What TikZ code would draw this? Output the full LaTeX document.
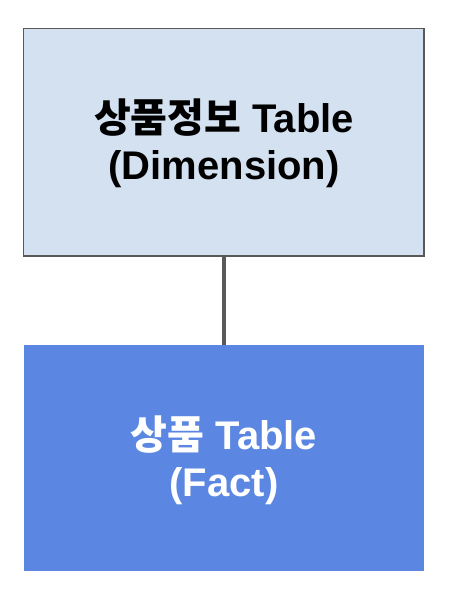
\documentclass[tikz,border=0pt]{standalone}
\usepackage{fontspec}
\setmainfont{Liberation Sans}
\newfontfamily\kr{Noto Sans CJK KR}
\definecolor{topfill}{HTML}{D4E1F1}
\definecolor{botfill}{HTML}{5B87E2}
\definecolor{edgegray}{HTML}{595959}
\begin{document}
\begin{tikzpicture}[x=1pt,y=-1pt,
  boxtext/.style={font=\fontsize{40}{47}\selectfont\bfseries, align=center, inner sep=0pt},
  dimbox/.style={draw=edgegray, line width=1.5pt, fill=topfill},
  factbox/.style={fill=botfill},
  link/.style={draw=edgegray, line width=4.5pt}]
\useasboundingbox (0,0) rectangle (448,604);
\path[dimbox] (23.5,28.5) rectangle (424,256);
\path[factbox] (24,345) rectangle (424,571);
\node[boxtext, text=black] (dim) at (224,143) {{\kr\bfseries 상품정보} Table\\(Dimension)};
\node[boxtext, text=white] (fact) at (224,460) {{\kr\bfseries 상품} Table\\(Fact)};
\coordinate (dimbot) at (224,256);
\coordinate (facttop) at (224,345);
\draw[link] (dimbot) -- (facttop);
\end{tikzpicture}
\end{document}
